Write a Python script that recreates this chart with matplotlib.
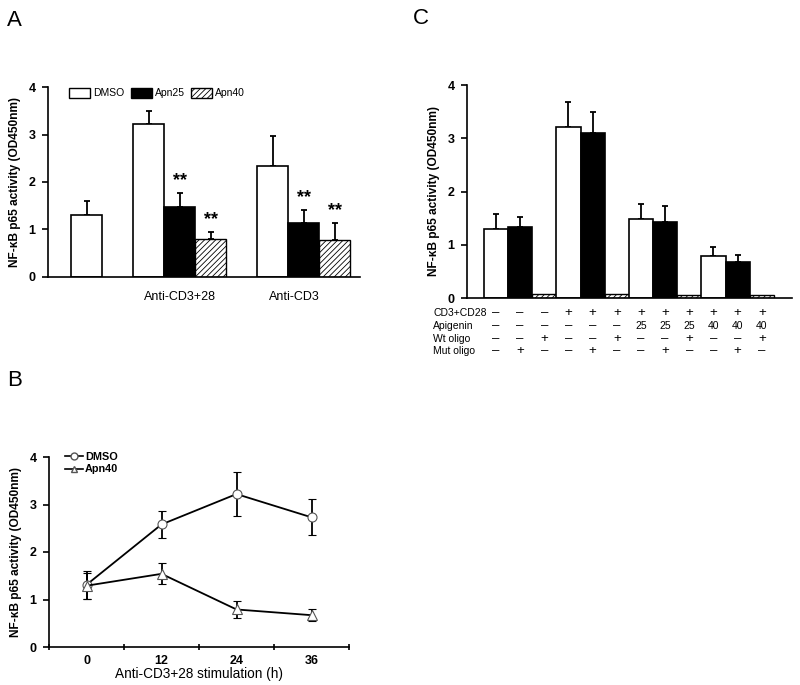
import matplotlib.pyplot as plt
from matplotlib.patches import Patch
from matplotlib.lines import Line2D
from matplotlib.transforms import blended_transform_factory

plt.rcParams['font.family'] = ['Liberation Sans', 'DejaVu Sans']
plt.rcParams['hatch.linewidth'] = 0.6

# Panel A data
a_groups = ['Anti-CD3+28', 'Anti-CD3']
a_series = ['DMSO', 'Apn25', 'Apn40']
a_ctrl = 1.31
a_ctrl_err = 0.29
a_cd328 = [3.22, 1.47, 0.79]
a_cd328_err = [0.28, 0.30, 0.16]
a_cd3 = [2.33, 1.14, 0.77]
a_cd3_err = [0.64, 0.28, 0.36]

# Panel B data
b_hours = ['0', '12', '24', '36']
b_dmso = [1.31, 2.58, 3.22, 2.73]
b_dmso_err = [0.29, 0.29, 0.47, 0.38]
b_apn40 = [1.29, 1.54, 0.79, 0.67]
b_apn40_err = [0.27, 0.22, 0.17, 0.12]

# Panel C data
c_white = [1.30, 3.22, 1.48, 0.79]
c_white_err = [0.28, 0.47, 0.29, 0.17]
c_black = [1.33, 3.09, 1.43, 0.68]
c_black_err = [0.20, 0.41, 0.30, 0.13]
c_hatch = [0.07, 0.08, 0.06, 0.06]
c_rows = ['CD3+CD28', 'Apigenin', 'Wt oligo', 'Mut oligo']
c_table = [
    ['–', '–', '–', '+', '+', '+', '+', '+', '+', '+', '+', '+'],
    ['–', '–', '–', '–', '–', '–', '25', '25', '25', '40', '40', '40'],
    ['–', '–', '+', '–', '–', '+', '–', '–', '+', '–', '–', '+'],
    ['–', '+', '–', '–', '+', '–', '–', '+', '–', '–', '+', '–'],
]

ylab = 'NF-κB p65 activity (OD450nm)'
W, H = 800, 685
fig = plt.figure(figsize=(8, 6.85), dpi=100)


def px_axes(l, t, r, b):
    return fig.add_axes([l / W, 1 - b / H, (r - l) / W, (b - t) / H])


def style(ax):
    ax.spines['top'].set_visible(False)
    ax.spines['right'].set_visible(False)
    ax.spines['left'].set_linewidth(1.2)
    ax.spines['bottom'].set_linewidth(1.2)
    ax.set_ylim(0, 4)
    ax.set_yticks([0, 1, 2, 3, 4])
    ax.tick_params(axis='y', length=4, width=1.2, labelsize=9, pad=5)
    for t in ax.get_yticklabels():
        t.set_fontweight('bold')
    ax.set_ylabel(ylab, fontsize=8.6, fontweight='bold', labelpad=5)


def bars(ax, x, h, kind, err=None):
    if kind == 'white':
        ax.bar(x, h, 1.0, color='white', edgecolor='black', linewidth=1.2, zorder=2)
    elif kind == 'black':
        ax.bar(x, h, 1.0, color='black', edgecolor='black', linewidth=1.2, zorder=2)
    else:
        ax.bar(x, h, 1.0, color='white', edgecolor='black', linewidth=1.0,
               hatch='//////', zorder=2)
    if err is not None:
        ax.errorbar(x, h, yerr=[[0] * len(h), err], fmt='none', ecolor='black',
                    elinewidth=1.3, capsize=2.5, capthick=1.3, zorder=1)


# ---------- Panel A ----------
axA = px_axes(48, 87, 360, 277)
style(axA)
axA.set_xlim(0, 10.06)
axA.set_xticks([])
bars(axA, [1.25], [a_ctrl], 'white', [a_ctrl_err])
pos_g = [[3.25, 4.25, 5.25], [7.25, 8.25, 9.25]]
for pos, vals, errs in [(pos_g[0], a_cd328, a_cd328_err), (pos_g[1], a_cd3, a_cd3_err)]:
    for p, v, e, k in zip(pos, vals, errs, ['white', 'black', 'hatch']):
        bars(axA, [p], [v], k, [e])
    for p, v, e in zip(pos[1:], vals[1:], errs[1:]):
        axA.text(p, v + e + 0.08, '**', ha='center', va='bottom', fontsize=13,
                 fontweight='bold')
axA.text(4.25, -0.3, a_groups[0], ha='center', va='top', fontsize=9)
axA.text(7.95, -0.3, a_groups[1], ha='center', va='top', fontsize=9)
handlesA = [Patch(facecolor='white', edgecolor='black', linewidth=1.0),
            Patch(facecolor='black', edgecolor='black'),
            Patch(facecolor='white', edgecolor='black', hatch='//////', linewidth=1.0)]
fig.legend(handlesA, a_series, loc='center left', bbox_to_anchor=(64 / W, 1 - 93 / H),
           ncol=3, frameon=False, fontsize=7.5, handlelength=2.0, handleheight=1.1,
           handletextpad=0.3, columnspacing=0.6, borderpad=0)

# ---------- Panel B ----------
axB = px_axes(49, 457, 349, 647)
style(axB)
xb = list(range(len(b_hours)))
axB.set_xlim(-0.5, 3.5)
axB.set_xticks(xb)
axB.set_xticklabels(b_hours, fontsize=9, fontweight='bold')
axB.tick_params(axis='x', length=0, pad=6)
axB.set_xticks([-0.5, 0.5, 1.5, 2.5, 3.5], minor=True)
axB.tick_params(axis='x', which='minor', length=4, width=1.2, direction='inout')
axB.errorbar(xb, b_dmso, yerr=b_dmso_err, color='black', lw=1.3, marker='o', ms=6.5,
             mfc='white', mec='#555555', mew=0.8, capsize=3, capthick=1.3, elinewidth=1.3)
axB.errorbar(xb, b_apn40, yerr=b_apn40_err, color='black', lw=1.3, marker='^', ms=6.5,
             mfc='white', mec='#555555', mew=0.8, capsize=3, capthick=1.3, elinewidth=1.3)
axB.set_xlabel('Anti-CD3+28 stimulation (h)', fontsize=9.8, labelpad=0)
handlesB = [Line2D([], [], color='black', lw=1.2, marker='o', ms=5, mfc='white', mec='#555555'),
            Line2D([], [], color='black', lw=1.2, marker='^', ms=5, mfc='white', mec='#555555')]
fig.legend(handlesB, ['DMSO', 'Apn40'], loc='center left',
           bbox_to_anchor=(60 / W, 1 - 463 / H), frameon=False,
           prop={'size': 7.8, 'weight': 'bold'}, handlelength=1.6,
           handletextpad=0.2, labelspacing=0.25, borderpad=0)

# ---------- Panel C ----------
axC = px_axes(467, 85, 792, 298)
style(axC)
axC.set_xlim(-1.2, 12.25)
axC.set_xticks([])
for i in range(4):
    bars(axC, [3 * i], [c_white[i]], 'white', [c_white_err[i]])
    bars(axC, [3 * i + 1], [c_black[i]], 'black', [c_black_err[i]])
    bars(axC, [3 * i + 2], [c_hatch[i]], 'hatch')
trC = blended_transform_factory(axC.transData, fig.transFigure)
row_y = [313, 326, 339, 351]
for name, cells, y in zip(c_rows, c_table, row_y):
    fig.text(433 / W, 1 - y / H, name, ha='left', va='center', fontsize=7.5)
    for j, s in enumerate(cells):
        axC.text(j, 1 - y / H, s, transform=trC, ha='center', va='center',
                 fontsize=9.5 if s in ('+', '–') else 7.5)

# panel letters
fig.text(7 / W, 1 - 20 / H, 'A', fontsize=16, va='center', ha='left')
fig.text(7 / W, 1 - 380 / H, 'B', fontsize=16, va='center', ha='left')
fig.text(413 / W, 1 - 18 / H, 'C', fontsize=16, va='center', ha='left')

fig.savefig('out.png', dpi=100, facecolor='white')
